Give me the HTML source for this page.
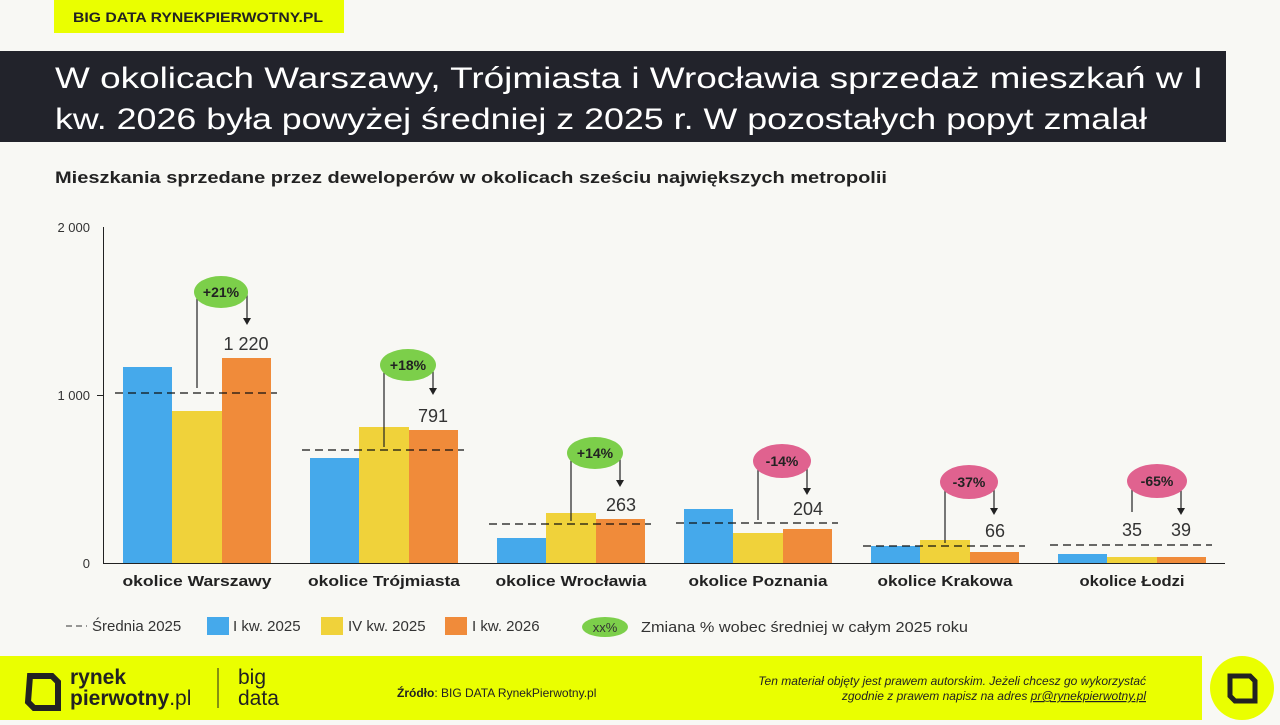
<!DOCTYPE html>
<html><head><meta charset="utf-8"><style>
body{margin:0;width:1280px;height:720px;overflow:hidden;background:#f8f8f4;font-family:"Liberation Sans",sans-serif}
</style></head><body>
<svg width="1280" height="720" xmlns="http://www.w3.org/2000/svg" font-family="Liberation Sans, sans-serif">
<rect width="1280" height="720" fill="#f8f8f4"/>
<rect x="54" y="0" width="290" height="33" fill="#eaff00"/>
<text x="73" y="22" font-size="14" font-weight="bold" fill="#222" textLength="250" lengthAdjust="spacingAndGlyphs">BIG DATA RYNEKPIERWOTNY.PL</text>
<rect x="0" y="51" width="1226" height="91" fill="#22232b"/>
<text x="55" y="88" font-size="30" fill="#fff" textLength="1148" lengthAdjust="spacingAndGlyphs">W okolicach Warszawy, Trójmiasta i Wrocławia sprzedaż mieszkań w I</text>
<text x="55" y="129" font-size="30" fill="#fff" textLength="1092" lengthAdjust="spacingAndGlyphs">kw. 2026 była powyżej średniej z 2025 r. W pozostałych popyt zmalał</text>
<text x="55" y="183" font-size="17" font-weight="bold" fill="#222" textLength="832" lengthAdjust="spacingAndGlyphs">Mieszkania sprzedane przez deweloperów w okolicach sześciu największych metropolii</text>
<g font-size="13" fill="#333" text-anchor="end">
<text x="90" y="232">2 000</text><text x="90" y="400">1 000</text><text x="90" y="568">0</text></g>
<line x1="103.5" y1="227" x2="103.5" y2="563" stroke="#222"/>
<line x1="97" y1="395.5" x2="103" y2="395.5" stroke="#222"/>
<line x1="103" y1="563.5" x2="1225" y2="563.5" stroke="#222"/>
<rect x="123" y="367" width="49" height="196" fill="#45a9eb"/><rect x="172" y="411" width="50" height="152" fill="#f0d23a"/><rect x="222" y="358" width="49" height="205" fill="#f08b3a"/>
<rect x="310" y="458" width="49" height="105" fill="#45a9eb"/><rect x="359" y="427" width="50" height="136" fill="#f0d23a"/><rect x="409" y="430" width="49" height="133" fill="#f08b3a"/>
<rect x="497" y="538" width="49" height="25" fill="#45a9eb"/><rect x="546" y="513" width="50" height="50" fill="#f0d23a"/><rect x="596" y="519" width="49" height="44" fill="#f08b3a"/>
<rect x="684" y="509" width="49" height="54" fill="#45a9eb"/><rect x="733" y="533" width="50" height="30" fill="#f0d23a"/><rect x="783" y="529" width="49" height="34" fill="#f08b3a"/>
<rect x="871" y="546" width="49" height="17" fill="#45a9eb"/><rect x="920" y="540" width="50" height="23" fill="#f0d23a"/><rect x="970" y="552" width="49" height="11" fill="#f08b3a"/>
<rect x="1058" y="554" width="49" height="9" fill="#45a9eb"/><rect x="1107" y="557" width="50" height="6" fill="#f0d23a"/><rect x="1157" y="557" width="49" height="6" fill="#f08b3a"/>
<g stroke="#111" stroke-dasharray="8,5" stroke-width="1.2">
<line x1="115" y1="393" x2="277" y2="393"/><line x1="302" y1="450" x2="464" y2="450"/><line x1="489" y1="524" x2="651" y2="524"/>
<line x1="676" y1="523" x2="838" y2="523"/><line x1="863" y1="546" x2="1025" y2="546"/><line x1="1050" y1="545" x2="1212" y2="545"/></g>
<g stroke="#222" stroke-width="1.2" fill="none">
<path d="M197 388V292M247 292V318"/><path d="M384 447V365M433 365V388"/><path d="M571 521V453M620 453V480"/>
<path d="M758 520V461M807 461V488"/><path d="M945 543V482M994 482V508"/><path d="M1132 512V481M1181 481V508"/></g>
<g fill="#222"><path d="M243 318h8l-4 7z"/><path d="M429 388h8l-4 7z"/><path d="M616 480h8l-4 7z"/><path d="M803 488h8l-4 7z"/><path d="M990 508h8l-4 7z"/><path d="M1177 508h8l-4 7z"/></g>
<g font-size="14" font-weight="bold" fill="#222" text-anchor="middle">
<ellipse cx="221" cy="292" rx="27" ry="16" fill="#7ccf4a"/><text x="221" y="297">+21%</text>
<ellipse cx="408" cy="365" rx="28" ry="16" fill="#7ccf4a"/><text x="408" y="370">+18%</text>
<ellipse cx="595" cy="453" rx="28" ry="16" fill="#7ccf4a"/><text x="595" y="458">+14%</text>
<ellipse cx="782" cy="461" rx="29" ry="17" fill="#e0628f"/><text x="782" y="466">-14%</text>
<ellipse cx="969" cy="482" rx="29" ry="17" fill="#e0628f"/><text x="969" y="487">-37%</text>
<ellipse cx="1157" cy="481" rx="30" ry="17" fill="#e0628f"/><text x="1157" y="486">-65%</text></g>
<g font-size="18" fill="#333" text-anchor="middle">
<text x="246" y="350">1 220</text><text x="433" y="422">791</text><text x="621" y="511">263</text><text x="808" y="515">204</text><text x="995" y="537">66</text><text x="1132" y="536">35</text><text x="1181" y="536">39</text></g>
<g font-size="15" font-weight="bold" fill="#222" text-anchor="middle">
<text x="197" y="586" textLength="149" lengthAdjust="spacingAndGlyphs">okolice Warszawy</text><text x="384" y="586" textLength="152" lengthAdjust="spacingAndGlyphs">okolice Trójmiasta</text><text x="571" y="586" textLength="151" lengthAdjust="spacingAndGlyphs">okolice Wrocławia</text>
<text x="758" y="586" textLength="139" lengthAdjust="spacingAndGlyphs">okolice Poznania</text><text x="945" y="586" textLength="135" lengthAdjust="spacingAndGlyphs">okolice Krakowa</text><text x="1132" y="586" textLength="105" lengthAdjust="spacingAndGlyphs">okolice Łodzi</text></g>
<g font-size="15" fill="#333">
<line x1="66" y1="626" x2="87" y2="626" stroke="#333" stroke-dasharray="6,4"/><text x="92" y="631">Średnia 2025</text>
<rect x="207" y="617" width="22" height="18" fill="#45a9eb"/><text x="233" y="631">I kw. 2025</text>
<rect x="321" y="617" width="22" height="18" fill="#f0d23a"/><text x="348" y="631">IV kw. 2025</text>
<rect x="445" y="617" width="22" height="18" fill="#f08b3a"/><text x="472" y="631">I kw. 2026</text>
<ellipse cx="605" cy="627" rx="23" ry="10" fill="#7ccf4a"/><text x="605" y="632" text-anchor="middle" font-size="13">xx%</text>
<text x="641" y="632" textLength="327" lengthAdjust="spacingAndGlyphs">Zmiana % wobec średniej w całym 2025 roku</text></g>
<rect x="0" y="656" width="1202" height="64" fill="#eaff00"/>
<path d="M30 676h22l6 6v26h-24l-6-6z" fill="none" stroke="#222" stroke-width="6"/>
<text x="70" y="684" font-size="21" font-weight="bold" fill="#222">rynek</text>
<text x="70" y="705" font-size="21" font-weight="bold" fill="#222">pierwotny<tspan font-weight="normal">.pl</tspan></text>
<line x1="218" y1="668" x2="218" y2="708" stroke="#222"/>
<text x="238" y="684" font-size="21" fill="#222">big</text><text x="238" y="705" font-size="21" fill="#222">data</text>
<text x="397" y="697" font-size="12" fill="#222"><tspan font-weight="bold">Źródło</tspan>: BIG DATA RynekPierwotny.pl</text>
<g font-size="12" font-style="italic" fill="#222" text-anchor="end">
<text x="1146" y="685">Ten materiał objęty jest prawem autorskim. Jeżeli chcesz go wykorzystać</text>
<text x="1146" y="700">zgodnie z prawem napisz na adres <tspan text-decoration="underline">pr@rynekpierwotny.pl</tspan></text></g>
<circle cx="1242" cy="688" r="32" fill="#eaff00"/>
<path d="M1230 676h20l5 5v20h-20l-5-5z" fill="none" stroke="#222" stroke-width="5"/>
</svg>
</body></html>
